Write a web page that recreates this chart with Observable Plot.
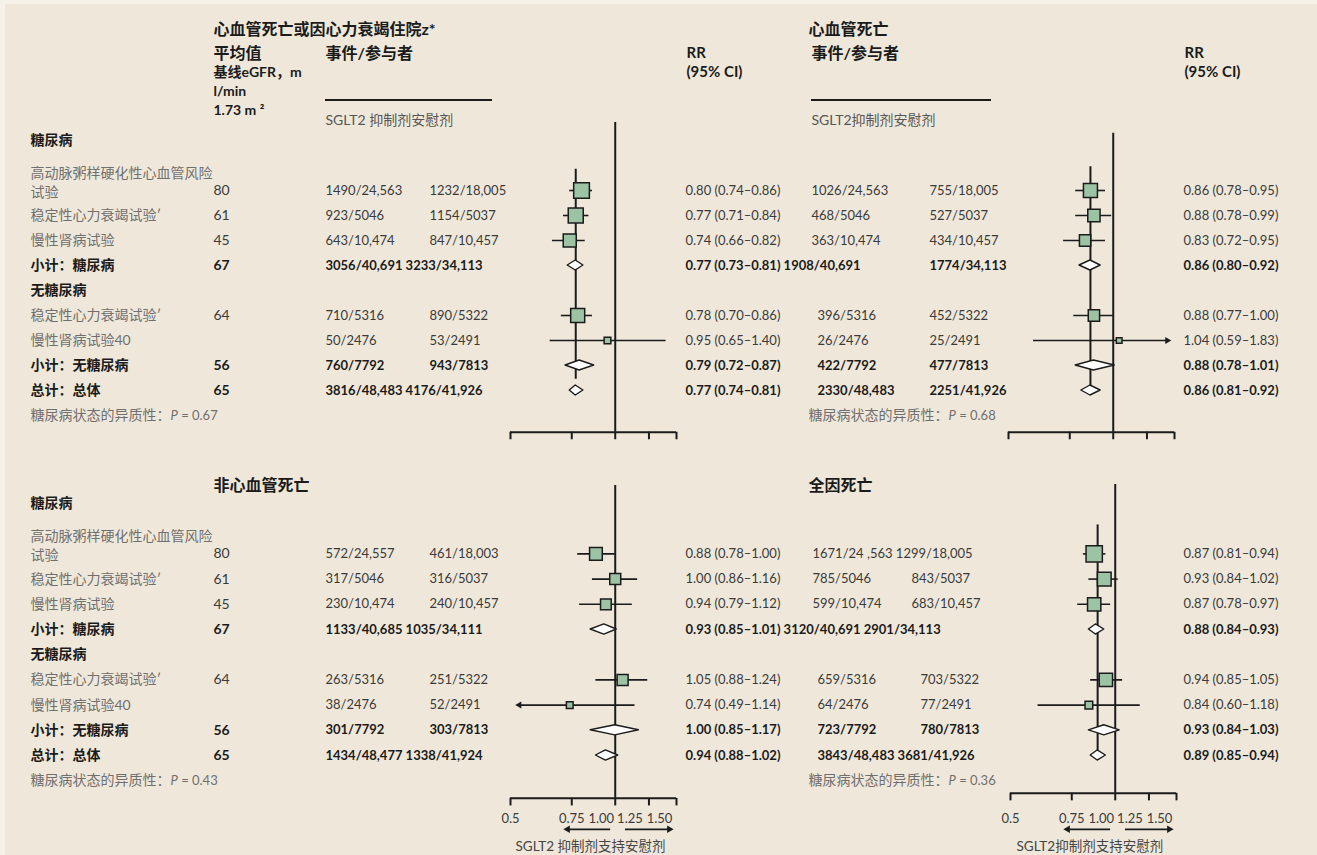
<!DOCTYPE html>
<html lang="zh">
<head>
<meta charset="utf-8">
<script src="https://cdn.jsdelivr.net/npm/d3@7"></script>
<script src="https://cdn.jsdelivr.net/npm/@observablehq/plot@0.6"></script>
<style>
html,body{margin:0;padding:0;background:#F6F2EA;}
#wrap{position:relative;width:1317px;height:855px;overflow:hidden;background:#F6F2EA;}
#bg{position:absolute;left:5px;top:4px;width:1312px;height:851px;background:#EFE8DA;}
#wrap svg{position:absolute;left:0;}
</style>
</head>
<body>
<div id="wrap"><div id="bg"></div></div>
<script>
// ---------------- data ----------------
const ROW_KIND  = ["group","blank","trial","trial","trial","subtotal","group","trial","trial","subtotal","total","het"];
const ROW_LABEL = ["糖尿病","","高动脉粥样硬化性心血管风险\n试验","稳定性心力衰竭试验ʹ","慢性肾病试验","小计：糖尿病","无糖尿病","稳定性心力衰竭试验ʹ","慢性肾病试验40","小计：无糖尿病","总计：总体","糖尿病状态的异质性："];
const MEAN_EGFR = ["","","80","61","45","67","","64","","56","65",""];
const RESULT_ROWS = [2,3,4,5,7,8,9,10];
const AXIS_TICKS = [0.5,0.75,1.0,1.25,1.5];
const AXIS_TICK_LABELS = ["0.5","0.75","1.00","1.25","1.50"];
const AXIS_CAPTION_LEFT = "SGLT2 抑制剂支持安慰剂";
const AXIS_CAPTION_RIGHT = "SGLT2抑制剂支持安慰剂";
const HDR_MEAN = ["平均值","基线eGFR，m","l/min","1.73 m ²"];
const HDR_EVENTS = "事件/参与者";
const HDR_RR = ["RR","(95% CI)"];
const HDR_ARMS_LEFT = "SGLT2 抑制剂安慰剂";
const HDR_ARMS_RIGHT = "SGLT2抑制剂安慰剂";

// Outcome 1: CV death or hospitalisation for heart failure
const cvhfTitle = "心血管死亡或因心力衰竭住院z*";
const cvhfSglt2   = ["1490/24,563","923/5046","643/10,474","3056/40,691","710/5316","50/2476","760/7792","3816/48,483"];
const cvhfPlacebo = ["1232/18,005","1154/5037","847/10,457","3233/34,113","890/5322","53/2491","943/7813","4176/41,926"];
const cvhfRR   = [0.80,0.77,0.74,0.77,0.78,0.95,0.79,0.77];
const cvhfLow  = [0.74,0.71,0.66,0.73,0.70,0.65,0.72,0.74];
const cvhfHigh = [0.86,0.84,0.82,0.81,0.86,1.40,0.87,0.81];
const cvhfWeight = [15.7,15,13,null,14,6.7,null,null];
const cvhfHetP = "0.67";

// Outcome 2: CV death
const cvdTitle = "心血管死亡";
const cvdSglt2   = ["1026/24,563","468/5046","363/10,474","1908/40,691","396/5316","26/2476","422/7792","2330/48,483"];
const cvdPlacebo = ["755/18,005","527/5037","434/10,457","1774/34,113","452/5322","25/2491","477/7813","2251/41,926"];
const cvdRR   = [0.86,0.88,0.83,0.86,0.88,1.04,0.88,0.86];
const cvdLow  = [0.78,0.78,0.72,0.80,0.77,0.59,0.78,0.81];
const cvdHigh = [0.95,0.99,0.95,0.92,1.00,1.83,1.01,0.92];
const cvdWeight = [14,12.3,11.3,null,11.3,5.7,null,null];
const cvdHetP = "0.68";

// Outcome 3: non-CV death
const ncvdTitle = "非心血管死亡";
const ncvdSglt2   = ["572/24,557","317/5046","230/10,474","1133/40,685","263/5316","38/2476","301/7792","1434/48,477"];
const ncvdPlacebo = ["461/18,003","316/5037","240/10,457","1035/34,111","251/5322","52/2491","303/7813","1338/41,924"];
const ncvdRR   = [0.88,1.00,0.94,0.93,1.05,0.74,1.00,0.94];
const ncvdLow  = [0.78,0.86,0.79,0.85,0.88,0.49,0.85,0.88];
const ncvdHigh = [1.00,1.16,1.12,1.01,1.24,1.14,1.17,1.02];
const ncvdWeight = [12.7,11,10.7,null,11,6.7,null,null];
const ncvdHetP = "0.43";

// Outcome 4: all-cause death
const acmTitle = "全因死亡";
const acmSglt2   = ["1671/24 ,563","785/5046","599/10,474","3120/40,691","659/5316","64/2476","723/7792","3843/48,483"];
const acmPlacebo = ["1299/18,005","843/5037","683/10,457","2901/34,113","703/5322","77/2491","780/7813","3681/41,926"];
const acmRR   = [0.87,0.93,0.87,0.88,0.94,0.84,0.93,0.89];
const acmLow  = [0.81,0.84,0.78,0.84,0.85,0.60,0.84,0.85];
const acmHigh = [0.94,1.02,0.97,0.93,1.05,1.18,1.03,0.94];
const acmWeight = [16.3,13.7,13.3,null,13.3,7.7,null,null];
const acmHetP = "0.36";

// ---------------- styling / layout ----------------
const FONT = 'Lato, "Noto Sans CJK SC", sans-serif';
const DARK = "#1b1b1b", TXT = "#3a3a3a", GRAY = "#6f6f6f", GREEN = "#9CC4A4";
const NUM = 13;   // numeric text size
const CLIP = [0.53, 1.43];
const ARROW_LEFT = [0.97, 0.73], ARROW_RIGHT = [1.07, 1.43];
const TICK_DX = [0, 0, -14, -19, -17];

const outcomes = {
  cvhf: {title:cvhfTitle, ev1:cvhfSglt2, ev2:cvhfPlacebo, est:cvhfRR, lo:cvhfLow, hi:cvhfHigh, w:cvhfWeight, p:cvhfHetP},
  cvd:  {title:cvdTitle,  ev1:cvdSglt2,  ev2:cvdPlacebo,  est:cvdRR,  lo:cvdLow,  hi:cvdHigh,  w:cvdWeight,  p:cvdHetP},
  ncvd: {title:ncvdTitle, ev1:ncvdSglt2, ev2:ncvdPlacebo, est:ncvdRR, lo:ncvdLow, hi:ncvdHigh, w:ncvdWeight, p:ncvdHetP},
  acm:  {title:acmTitle,  ev1:acmSglt2,  ev2:acmPlacebo,  est:acmRR,  lo:acmLow,  hi:acmHigh,  w:acmWeight,  p:acmHetP}
};

const panels = [
  {key:"cvhf", side:"left", top:0, height:455, y0:140, rowH:25, axisRow:11.67, refTop:-0.72, overall:[1.15,9.55],
   xRange:[510,676], cols:{label:30, mean:213, ev1:[325,325], ev2:[429,429], rr:685, het:30, title:213}, titleY:23,
   merge:[5,10], header:true},
  {key:"cvd", side:"right", top:0, height:455, y0:140, rowH:25, axisRow:11.67, refTop:-0.29, overall:[1.05,9.8],
   xRange:[1008,1174], cols:{ev1:[811,817], ev2:[929,929], rr:1183, het:808, title:808}, titleY:23,
   merge:[], spill:{5:["ev1"]}, header:true},
  {key:"ncvd", side:"left", top:455, height:400, y0:48, rowH:25.2, axisRow:11.7, refTop:-0.71, overall:null,
   xRange:[510,676], cols:{label:30, mean:213, ev1:[325,325], ev2:[429,429], rr:685, het:30, title:213, caption:515}, titleY:24,
   merge:[5,10], header:false, caption:AXIS_CAPTION_LEFT},
  {key:"acm", side:"right", top:455, height:400, y0:48, rowH:25.2, axisRow:11.5, refTop:-0.75, overall:[0.85,9.8],
   xRange:[1010,1176], cols:{ev1:[812,817], ev2:[911,920], rr:1183, het:808, title:808, caption:1016}, titleY:24,
   merge:[2,10], spill:{5:["ev1","ev2"]}, header:false, caption:AXIS_CAPTION_RIGHT}
];

const f2 = v => v.toFixed(2);
const rrText = (e,l,h) => `${f2(e)} (${f2(l)}–${f2(h)})`;

function rowsOf(D) {
  return RESULT_ROWS.map((row,i) => ({row, kind:ROW_KIND[row], diab: row < 6,
    est:D.est[i], lo:D.lo[i], hi:D.hi[i], w:D.w[i], ev1:D.ev1[i], ev2:D.ev2[i]}));
}

// text spilled from a right panel into the left panel's RR column
function spillOf(P) {
  const out = {};
  if (!P.spill) return out;
  const rows = rowsOf(outcomes[P.key]);
  for (const [r, fields] of Object.entries(P.spill)) {
    const d = rows.find(x => x.row === +r);
    out[r] = fields.map(f => d[f]).join(" ");
  }
  return out;
}

function txt(data, text, dx, o = {}) {
  return Plot.text(data, {y:"row", text, frameAnchor:"left", dx, dy:o.dy || 0, textAnchor:"start",
    fill:o.fill || TXT, fontWeight:o.bold ? "bold" : "normal", fontSize:o.size || 14, fontFamily:FONT,
    lineHeight:o.lineHeight || 1, lineAnchor:"middle"});
}
function hdr(t, x, y, o = {}) {
  return Plot.text([t], {text:d => d, frameAnchor:"top-left", dx:x, dy:y, textAnchor:"start",
    fill:o.fill || DARK, fontWeight:o.bold === false ? "normal" : "bold", fontSize:o.size || 15, fontFamily:FONT});
}

function buildPanel(P, extraRR) {
  const D = outcomes[P.key];
  const res = rowsOf(D);
  for (const d of res) {
    if (P.merge.includes(d.row)) { d.ev1 = d.ev1 + " " + d.ev2; d.ev2 = ""; }
    if (P.spill && P.spill[d.row]) for (const f of P.spill[d.row]) d[f] = "";
    d.rr = rrText(d.est, d.lo, d.hi) + (extraRR && extraRR[d.row] ? " " + extraRR[d.row] : "");
  }
  const trials = res.filter(d => d.kind === "trial");
  const summ = res.filter(d => d.kind !== "trial");
  const diamonds = summ.flatMap(d => [
    {row:d.row, x:d.lo,  y1:d.row,       y2:d.row},
    {row:d.row, x:d.est, y1:d.row - 0.2, y2:d.row + 0.2},
    {row:d.row, x:d.hi,  y1:d.row,       y2:d.row}]);
  const heads = trials.flatMap(d => [
    d.lo < CLIP[0] ? {row:d.row, x:CLIP[0], rot:-90} : null,
    d.hi > CLIP[1] ? {row:d.row, x:CLIP[1], rot:90} : null]).filter(Boolean);
  const overall = res.find(d => d.kind === "total").est;
  const C = P.cols;

  const marks = [
    Plot.ruleX([1], {y1:P.refTop, y2:P.axisRow, stroke:DARK, strokeWidth:2}),
    P.overall ? Plot.ruleX([overall], {y1:P.overall[0], y2:P.overall[1], stroke:DARK, strokeWidth:2}) : null,
    Plot.ruleY([P.axisRow], {x1:AXIS_TICKS[0], x2:AXIS_TICKS[AXIS_TICKS.length-1], stroke:DARK, strokeWidth:2}),
    Plot.ruleX(AXIS_TICKS, {y1:P.axisRow, y2:P.axisRow + 0.3, stroke:DARK, strokeWidth:2}),
    Plot.ruleY(trials, {y:"row", x1:d => Math.max(d.lo, CLIP[0]), x2:d => Math.min(d.hi, CLIP[1]), stroke:DARK, strokeWidth:1.6}),
    Plot.dot(heads, {x:"x", y:"row", symbol:"triangle", r:2.6, rotate:"rot", fill:DARK}),
    Plot.dot(trials, {x:"est", y:"row", r:"w", symbol:"square", fill:GREEN, stroke:DARK, strokeWidth:1.5}),
    Plot.areaY(diamonds, {x:"x", y1:"y1", y2:"y2", z:"row", fill:"white", stroke:DARK, strokeWidth:1.4}),
    hdr(D.title, C.title, P.titleY, {size:16})
  ];

  // row labels and mean eGFR (left panels)
  if (P.side === "left") {
    const lab = ROW_LABEL.map((t,row) => ({row, kind:ROW_KIND[row], t, mean:MEAN_EGFR[row]}))
      .filter(d => d.t && d.kind !== "het");
    const single = lab.filter(d => !d.t.includes("\n"));
    const multi = lab.filter(d => d.t.includes("\n"));
    marks.push(txt(single.filter(d => d.kind === "trial"), "t", C.label, {fill:GRAY}));
    marks.push(txt(single.filter(d => d.kind !== "trial"), "t", C.label, {fill:DARK, bold:true}));
    marks.push(txt(multi, "t", C.label, {fill:GRAY, lineHeight:1.36, dy:-9.5}));
    marks.push(txt(lab.filter(d => d.mean && d.kind === "trial"), "mean", C.mean, {size:NUM + 1}));
    marks.push(txt(lab.filter(d => d.mean && d.kind !== "trial"), "mean", C.mean, {fill:DARK, bold:true, size:NUM + 1}));
  }
  // event columns
  for (const f of ["ev1","ev2"]) {
    for (const [gi, diab] of [[0,true],[1,false]]) {
      const g = res.filter(d => d.diab === diab && d[f]);
      marks.push(txt(g.filter(d => d.kind === "trial"), f, C[f][gi], {size:NUM}));
      marks.push(txt(g.filter(d => d.kind !== "trial"), f, C[f][gi], {fill:DARK, bold:true, size:NUM}));
    }
  }
  // RR column
  marks.push(txt(trials, "rr", C.rr, {size:NUM}));
  marks.push(txt(summ, "rr", C.rr, {fill:DARK, bold:true, size:NUM}));
  // heterogeneity
  marks.push(txt([{row:11, t:ROW_LABEL[11] + "P = " + D.p}], "t", C.het, {fill:GRAY}));

  if (P.header) {
    if (P.side === "left") {
      marks.push(hdr(HDR_MEAN[0], C.mean, 47, {size:16}));
      marks.push(hdr(HDR_MEAN[1], C.mean, 67, {size:14}));
      marks.push(hdr(HDR_MEAN[2], C.mean, 86, {size:14}));
      marks.push(hdr(HDR_MEAN[3], C.mean, 105, {size:14}));
    }
    marks.push(hdr(HDR_EVENTS, C.ev1[0], 47, {size:16}));
    marks.push(hdr(HDR_RR[0], C.rr + 1, 47, {size:15}));
    marks.push(hdr(HDR_RR[1], C.rr + 1, 66, {size:15}));
    marks.push(hdr(P.side === "left" ? HDR_ARMS_LEFT : HDR_ARMS_RIGHT, C.ev1[0], 115, {bold:false, fill:"#555", size:14}));
    const x1 = C.ev1[0], x2 = P.side === "left" ? 492 : 991;
    marks.push(() => d3.create("svg:line").attr("x1", x1).attr("x2", x2).attr("y1", 100).attr("y2", 100)
      .attr("stroke", DARK).attr("stroke-width", 2).node());
  }
  if (P.caption) {
    AXIS_TICKS.forEach((v,i) => marks.push(Plot.text([{v, row:12.5, t:AXIS_TICK_LABELS[i]}],
      {x:"v", y:"row", text:"t", dx:TICK_DX[i], fill:TXT, fontSize:NUM, fontFamily:FONT})));
    const arrows = [
      {x1:ARROW_LEFT[0], x2:ARROW_LEFT[1], rot:-90},
      {x1:ARROW_RIGHT[0], x2:ARROW_RIGHT[1], rot:90}];
    marks.push(Plot.ruleY(arrows, {y:12.93, x1:"x1", x2:"x2", stroke:DARK, strokeWidth:1.8}));
    marks.push(Plot.dot(arrows, {x:"x2", y:12.93, symbol:"triangle", r:2.8, rotate:"rot", fill:DARK}));
    marks.push(txt([{row:13.6, t:P.caption}], "t", C.caption, {fill:"#444", size:13.5}));
  }

  const svg = Plot.plot({
    width:1317, height:P.height, margin:0,
    style:{background:"transparent", fontFamily:FONT, overflow:"visible"},
    x:{type:"log", domain:[AXIS_TICKS[0], AXIS_TICKS[AXIS_TICKS.length-1]], range:P.xRange, axis:null},
    y:{type:"linear", domain:[0,1], range:[P.y0, P.y0 + P.rowH], axis:null},
    r:{type:"linear", domain:[0,10], range:[0, 10 / Math.sqrt(Math.PI)]},
    marks:marks.filter(Boolean)
  });
  svg.style.top = P.top + "px";
  // italic P in heterogeneity line
  d3.select(svg).selectAll("text").each(function() {
    const t = this.textContent;
    const m = t.match(/^(.*：)P = (.*)$/);
    if (m && this.childElementCount === 0) {
      const s = d3.select(this); s.text("");
      s.append("tspan").text(m[1]);
      s.append("tspan").attr("font-style", "italic").attr("font-size", NUM).text("P");
      s.append("tspan").attr("font-size", NUM).text(" = " + m[2]);
    }
  });
  return svg;
}

const wrap = document.getElementById("wrap");
wrap.appendChild(buildPanel(panels[0], spillOf(panels[1])));
wrap.appendChild(buildPanel(panels[1]));
wrap.appendChild(buildPanel(panels[2], spillOf(panels[3])));
wrap.appendChild(buildPanel(panels[3]));
</script>
</body>
</html>
